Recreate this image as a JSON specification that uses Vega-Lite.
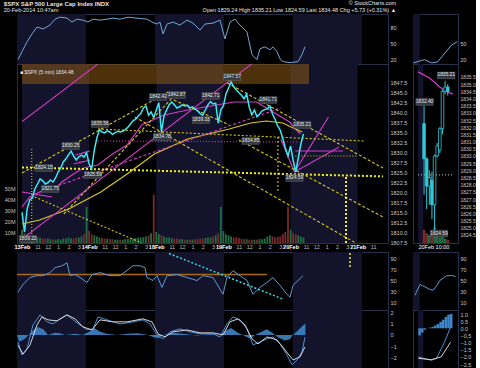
{
"$schema":"https://vega.github.io/schema/vega-lite/v6.json",
"background":"black",
"padding":{"left":3,"top":0,"right":0,"bottom":0},
"config":{
 "view":{"stroke":"#27324a","strokeWidth":1},
 "axis":{"labelColor":"#c8c8c8","labelFont":"Liberation Sans","labelFontSize":5.5,"grid":false,"domain":false,"ticks":false,"labelPadding":2,"labelOverlap":false},
 "title":{"color":"#e6e6e6","font":"Liberation Sans","fontSize":6,"fontWeight":"normal","subtitleColor":"#e6e6e6","subtitleFont":"Liberation Sans","subtitleFontSize":5.5,"subtitlePadding":1},
 "line":{"strokeCap":"butt"}
},
"title":{"text":"$SPX S&P 500 Large Cap Index INDX","subtitle":"20-Feb-2014 10:47am","anchor":"start","offset":-13,"fontWeight":"bold"},
"datasets":{
 "bands":[{"d0":0,"d1":1},{"d0":2,"d1":3},{"d0":4,"d1":5}],
 "px":[
  {"x":0,"p":1814.9,"v":12,"dir":"u"},{"x":0.038,"p":1810.0,"v":9,"dir":"d"},{"x":0.077,"p":1815.8,"v":8,"dir":"u"},{"x":0.115,"p":1818.0,"v":7,"dir":"u"},{"x":0.154,"p":1818.5,"v":6,"dir":"u"},{"x":0.192,"p":1820.8,"v":6,"dir":"u"},{"x":0.231,"p":1822.0,"v":5,"dir":"u"},{"x":0.269,"p":1823.3,"v":5,"dir":"u"},{"x":0.308,"p":1822.8,"v":4,"dir":"d"},{"x":0.346,"p":1822.0,"v":4,"dir":"d"},{"x":0.385,"p":1822.3,"v":4,"dir":"u"},{"x":0.423,"p":1823.0,"v":3.5,"dir":"u"},{"x":0.462,"p":1822.5,"v":3,"dir":"d"},{"x":0.5,"p":1823.5,"v":3,"dir":"u"},{"x":0.538,"p":1825.0,"v":3.5,"dir":"u"},{"x":0.577,"p":1826.0,"v":3,"dir":"u"},{"x":0.615,"p":1827.5,"v":4,"dir":"u"},{"x":0.654,"p":1828.3,"v":4,"dir":"u"},{"x":0.692,"p":1829.3,"v":5,"dir":"u"},{"x":0.731,"p":1830.2,"v":4,"dir":"u"},{"x":0.769,"p":1829.0,"v":4,"dir":"d"},{"x":0.808,"p":1828.0,"v":5,"dir":"d"},{"x":0.846,"p":1828.8,"v":5,"dir":"u"},{"x":0.885,"p":1829.2,"v":6,"dir":"u"},{"x":0.923,"p":1828.7,"v":8,"dir":"d"},{"x":0.962,"p":1829.8,"v":33,"dir":"u"},
  {"x":1,"p":1827.0,"v":11,"dir":"d"},{"x":1.038,"p":1825.8,"v":8,"dir":"d"},{"x":1.077,"p":1830.5,"v":7,"dir":"u"},{"x":1.115,"p":1833.5,"v":6,"dir":"u"},{"x":1.154,"p":1835.6,"v":5,"dir":"u"},{"x":1.192,"p":1835.0,"v":4.5,"dir":"d"},{"x":1.231,"p":1834.8,"v":4,"dir":"d"},{"x":1.269,"p":1835.3,"v":4,"dir":"u"},{"x":1.308,"p":1835.0,"v":3.5,"dir":"d"},{"x":1.346,"p":1834.4,"v":3.5,"dir":"d"},{"x":1.385,"p":1834.8,"v":3,"dir":"u"},{"x":1.423,"p":1835.2,"v":3,"dir":"u"},{"x":1.462,"p":1835.0,"v":3,"dir":"d"},{"x":1.5,"p":1835.2,"v":3,"dir":"u"},{"x":1.538,"p":1835.6,"v":3.5,"dir":"u"},{"x":1.577,"p":1836.2,"v":3.5,"dir":"u"},{"x":1.615,"p":1837.0,"v":4,"dir":"u"},{"x":1.654,"p":1837.8,"v":4,"dir":"u"},{"x":1.692,"p":1838.2,"v":4.5,"dir":"u"},{"x":1.731,"p":1839.0,"v":5,"dir":"u"},{"x":1.769,"p":1839.6,"v":5,"dir":"u"},{"x":1.808,"p":1841.0,"v":5.5,"dir":"u"},{"x":1.846,"p":1841.5,"v":6,"dir":"u"},{"x":1.885,"p":1839.2,"v":7,"dir":"d"},{"x":1.923,"p":1840.0,"v":9,"dir":"u"},{"x":1.962,"p":1838.6,"v":44,"dir":"d"},
  {"x":2,"p":1840.5,"v":10,"dir":"u"},{"x":2.038,"p":1842.3,"v":8,"dir":"u"},{"x":2.077,"p":1835.0,"v":7,"dir":"d"},{"x":2.115,"p":1839.0,"v":6,"dir":"u"},{"x":2.154,"p":1840.5,"v":5,"dir":"u"},{"x":2.192,"p":1841.8,"v":5,"dir":"u"},{"x":2.231,"p":1842.5,"v":4.5,"dir":"u"},{"x":2.269,"p":1841.8,"v":4,"dir":"d"},{"x":2.308,"p":1841.0,"v":4,"dir":"d"},{"x":2.346,"p":1841.3,"v":3.5,"dir":"u"},{"x":2.385,"p":1841.8,"v":3.5,"dir":"u"},{"x":2.423,"p":1841.5,"v":3,"dir":"d"},{"x":2.462,"p":1841.7,"v":3,"dir":"u"},{"x":2.5,"p":1841.0,"v":3,"dir":"d"},{"x":2.538,"p":1841.3,"v":3,"dir":"u"},{"x":2.577,"p":1840.8,"v":3.5,"dir":"d"},{"x":2.615,"p":1840.3,"v":3.5,"dir":"d"},{"x":2.654,"p":1839.6,"v":4,"dir":"d"},{"x":2.692,"p":1839.2,"v":4,"dir":"d"},{"x":2.731,"p":1840.5,"v":4.5,"dir":"u"},{"x":2.769,"p":1841.8,"v":5,"dir":"u"},{"x":2.808,"p":1842.6,"v":5,"dir":"u"},{"x":2.846,"p":1842.0,"v":6,"dir":"d"},{"x":2.885,"p":1842.2,"v":7,"dir":"u"},{"x":2.923,"p":1837.2,"v":9,"dir":"d"},{"x":2.962,"p":1840.6,"v":33,"dir":"u"},
  {"x":3,"p":1841.5,"v":11,"dir":"u"},{"x":3.038,"p":1844.5,"v":8,"dir":"u"},{"x":3.077,"p":1846.0,"v":7,"dir":"u"},{"x":3.115,"p":1847.5,"v":6,"dir":"u"},{"x":3.154,"p":1846.3,"v":5,"dir":"d"},{"x":3.192,"p":1845.5,"v":5,"dir":"d"},{"x":3.231,"p":1844.8,"v":4.5,"dir":"d"},{"x":3.269,"p":1844.2,"v":4,"dir":"d"},{"x":3.308,"p":1843.3,"v":3.5,"dir":"d"},{"x":3.346,"p":1844.5,"v":3.5,"dir":"u"},{"x":3.385,"p":1841.2,"v":3,"dir":"d"},{"x":3.423,"p":1839.3,"v":3,"dir":"d"},{"x":3.462,"p":1840.5,"v":3,"dir":"u"},{"x":3.5,"p":1838.8,"v":3,"dir":"d"},{"x":3.538,"p":1839.5,"v":3.5,"dir":"u"},{"x":3.577,"p":1840.3,"v":3.5,"dir":"u"},{"x":3.615,"p":1840.6,"v":4,"dir":"u"},{"x":3.654,"p":1840.8,"v":6,"dir":"u"},{"x":3.692,"p":1841.5,"v":7,"dir":"u"},{"x":3.731,"p":1839.5,"v":6,"dir":"d"},{"x":3.769,"p":1838.2,"v":5,"dir":"d"},{"x":3.808,"p":1836.5,"v":5.5,"dir":"d"},{"x":3.846,"p":1835.5,"v":6,"dir":"d"},{"x":3.885,"p":1833.3,"v":8,"dir":"d"},{"x":3.923,"p":1831.0,"v":10,"dir":"d"},{"x":3.962,"p":1829.0,"v":33,"dir":"d"},
  {"x":4,"p":1831.5,"v":12,"dir":"u"},{"x":4.038,"p":1828.0,"v":9,"dir":"d"},{"x":4.077,"p":1825.0,"v":8,"dir":"d"},{"x":4.115,"p":1828.5,"v":7,"dir":"u"},{"x":4.154,"p":1832.0,"v":6,"dir":"u"},{"x":4.192,"p":1834.5,"v":5,"dir":"u"}
 ],
 "ma":[
  {"s":"m1","x":0,"p":1816.25},{"s":"m1","x":0.116,"p":1818.75},{"s":"m1","x":0.261,"p":1820.0},{"s":"m1","x":0.478,"p":1820.5},{"s":"m1","x":0.594,"p":1822.5},{"s":"m1","x":0.768,"p":1824.5},{"s":"m1","x":0.913,"p":1826.0},{"s":"m1","x":1.13,"p":1826.75},{"s":"m1","x":1.348,"p":1829.5},{"s":"m1","x":1.565,"p":1831.75},{"s":"m1","x":1.783,"p":1836.75},{"s":"m1","x":2.116,"p":1839.25},{"s":"m1","x":2.464,"p":1840.5},{"s":"m1","x":2.899,"p":1841.75},{"s":"m1","x":3.159,"p":1842.5},{"s":"m1","x":3.493,"p":1842.5},{"s":"m1","x":3.739,"p":1840.0},{"s":"m1","x":3.986,"p":1837.5},{"s":"m1","x":4.145,"p":1834.5},
  {"s":"m2","x":0,"p":1812.0},{"s":"m2","x":0.261,"p":1813.0},{"s":"m2","x":0.696,"p":1815.75},{"s":"m2","x":1.174,"p":1820.0},{"s":"m2","x":1.565,"p":1824.5},{"s":"m2","x":1.971,"p":1829.5},{"s":"m2","x":2.464,"p":1833.25},{"s":"m2","x":3.087,"p":1835.75},{"s":"m2","x":3.406,"p":1837.25},{"s":"m2","x":3.638,"p":1837.75},{"s":"m2","x":3.884,"p":1837.25},{"s":"m2","x":4.072,"p":1835.75},{"s":"m2","x":4.174,"p":1835.0}
 ],
 "ann":[
  {"id":"rA","k":"red","x":0,"p":1837.6},{"id":"rA","k":"red","x":1.13,"p":1852},
  {"id":"rB","k":"red","x":0,"p":1808.25},{"id":"rB","k":"red","x":3.42,"p":1852},
  {"id":"rC1","k":"red","x":4.058,"p":1825.0},{"id":"rC1","k":"red","x":4.565,"p":1838.75},
  {"id":"rC2","k":"red","x":4.058,"p":1825.0},{"id":"rC2","k":"red","x":4.725,"p":1831.25},
  {"id":"rC3","k":"red","x":3.855,"p":1833.25},{"id":"rC3","k":"red","x":4.058,"p":1825.0},
  {"id":"rD1","k":"red","x":0.797,"p":1829.25},{"id":"rD1","k":"red","x":1.014,"p":1830.25},
  {"id":"rD2","k":"red","x":0.768,"p":1827.0},{"id":"rD2","k":"red","x":1.014,"p":1828.0},
  {"id":"mE","k":"mag","x":0,"p":1824.75},{"id":"mE","k":"mag","x":2.174,"p":1845.0},
  {"id":"mF","k":"mag","x":0.623,"p":1814.5},{"id":"mF","k":"mag","x":2.29,"p":1844.5},
  {"id":"oG","k":"ora","x":0.261,"p":1820.0},{"id":"oG","k":"ora","x":3.855,"p":1841.0},
  {"id":"cH","k":"cya","x":1.13,"p":1835.75},{"id":"cH","k":"cya","x":5.087,"p":1832.75},
  {"id":"tI","k":"tea","x":1.13,"p":1832.75},{"id":"tI","k":"tea","x":4.101,"p":1832.5},
  {"id":"cJ","k":"cya","x":3.812,"p":1833.75},{"id":"cJ","k":"cya","x":3.8121,"p":1820.0},
  {"id":"cK","k":"cya","x":0.188,"p":1818.75},{"id":"cK","k":"cya","x":1.783,"p":1807.25},
  {"id":"g1","k":"grn","x":3.058,"p":1847.25},{"id":"g1","k":"grn","x":5.377,"p":1826.0},
  {"id":"g0","k":"grn","x":2.261,"p":1843.0},{"id":"g0","k":"grn","x":3.087,"p":1836.75},
  {"id":"g2","k":"grn","x":1.681,"p":1838.75},{"id":"g2","k":"grn","x":4.971,"p":1807.25},
  {"id":"g3","k":"grn","x":3.232,"p":1833.0},{"id":"g3","k":"grn","x":5.377,"p":1813.75},
  {"id":"bN","k":"blu","x":0,"p":1820.0},{"id":"bN","k":"blu","x":0.449,"p":1818.75},
  {"id":"bV","k":"bld","x":0.145,"p":1830.75},{"id":"bV","k":"bld","x":0.1451,"p":1807.25},
  {"id":"oO","k":"orh","x":4.072,"p":1830.25},{"id":"oO","k":"orh","x":4.783,"p":1830.25},
  {"id":"gP","k":"gry","x":4.072,"p":1829.0},{"id":"gP","k":"gry","x":5.0,"p":1829.0}
 ],
 "yel":[
  {"id":"yL","x":0,"p":1826.15},{"id":"yL","x":5.377,"p":1823.9},
  {"id":"yM","x":4.826,"p":1823.75},{"id":"yM","x":4.8261,"p":1807.25}
 ],
 "box":[{"x0":0,"x1":4.275,"p0":1847.0,"p1":1852}],
 "lbl":[
  {"x":0.087,"p":1808.25,"t":"1809.22"},{"x":0.42,"p":1820.75,"t":"1821.75"},{"x":0.326,"p":1826.0,"t":"1824.15"},{"x":0.725,"p":1831.5,"t":"1830.25"},{"x":1.058,"p":1824.25,"t":"1825.59"},{"x":1.159,"p":1837.0,"t":"1835.56"},{"x":2.029,"p":1843.75,"t":"1842.42"},{"x":2.304,"p":1844.25,"t":"1842.87"},{"x":2.087,"p":1833.75,"t":"1834.78"},{"x":2.812,"p":1844.0,"t":"1842.71"},{"x":2.667,"p":1838.0,"t":"1839.33"},{"x":3.13,"p":1848.75,"t":"1847.57"},{"x":3.667,"p":1843.0,"t":"1841.71"},{"x":3.406,"p":1832.75,"t":"1834.85"},{"x":4.174,"p":1836.75,"t":"1835.21"},{"x":4.058,"p":1823.5,"t":"1824.59"}
 ],
 "rsi1":[
  {"x":0.014,"v":20},{"x":0.072,"v":34.5},{"x":0.145,"v":52.7},{"x":0.217,"v":67.3},{"x":0.29,"v":80},{"x":0.377,"v":76.4},{"x":0.478,"v":83.6},{"x":0.551,"v":94.5},{"x":0.623,"v":98.2},{"x":0.725,"v":96.4},{"x":0.797,"v":89.1},{"x":0.87,"v":94.5},{"x":0.957,"v":92.7},{"x":1.029,"v":89.1},{"x":1.101,"v":94.5},{"x":1.203,"v":92.7},{"x":1.304,"v":94.5},{"x":1.391,"v":96.4},{"x":1.493,"v":94.5},{"x":1.609,"v":98.2},{"x":1.739,"v":96.4},{"x":1.884,"v":94.5},{"x":1.957,"v":89.1},{"x":2.029,"v":85.5},{"x":2.072,"v":89.1},{"x":2.116,"v":67.3},{"x":2.174,"v":85.5},{"x":2.261,"v":89.1},{"x":2.362,"v":83.6},{"x":2.464,"v":92.7},{"x":2.551,"v":87.3},{"x":2.652,"v":74.5},{"x":2.725,"v":85.5},{"x":2.841,"v":87.3},{"x":2.942,"v":92.7},{"x":3.014,"v":58.2},{"x":3.087,"v":89.1},{"x":3.159,"v":94.5},{"x":3.232,"v":83.6},{"x":3.333,"v":70.9},{"x":3.406,"v":29.1},{"x":3.478,"v":20},{"x":3.522,"v":40},{"x":3.594,"v":43.6},{"x":3.667,"v":38.2},{"x":3.71,"v":43.6},{"x":3.768,"v":34.5},{"x":3.812,"v":21.8},{"x":3.855,"v":16.4},{"x":3.957,"v":14.5},{"x":4.072,"v":16.4},{"x":4.13,"v":29.1},{"x":4.174,"v":43.6}
 ],
 "rsi2":[
  {"x":0.014,"v":28.2},{"x":0.087,"v":42.7},{"x":0.188,"v":55.5},{"x":0.29,"v":59},{"x":0.377,"v":59},{"x":0.478,"v":64.5},{"x":0.551,"v":73.6},{"x":0.652,"v":77.3},{"x":0.725,"v":82.7},{"x":0.768,"v":59},{"x":0.841,"v":61},{"x":0.913,"v":55.5},{"x":1.014,"v":46.4},{"x":1.087,"v":61},{"x":1.203,"v":64.5},{"x":1.348,"v":59},{"x":1.493,"v":59},{"x":1.609,"v":70},{"x":1.681,"v":77.3},{"x":1.783,"v":77.3},{"x":1.855,"v":73.6},{"x":1.884,"v":55.5},{"x":1.971,"v":50},{"x":2.029,"v":59},{"x":2.101,"v":37.3},{"x":2.174,"v":59},{"x":2.319,"v":61},{"x":2.464,"v":55.5},{"x":2.609,"v":50},{"x":2.696,"v":59},{"x":2.841,"v":55.5},{"x":2.986,"v":24.5},{"x":3.043,"v":55.5},{"x":3.13,"v":68.2},{"x":3.232,"v":59},{"x":3.333,"v":50},{"x":3.42,"v":24.5},{"x":3.522,"v":37.3},{"x":3.623,"v":46.4},{"x":3.71,"v":55.5},{"x":3.812,"v":40.9},{"x":3.913,"v":24.5},{"x":3.957,"v":19},{"x":4.0,"v":40.9},{"x":4.072,"v":50},{"x":4.145,"v":59}
 ],
 "ann2":[
  {"id":"o","k":"orh","x":0,"v":61},{"id":"o","k":"orh","x":3.623,"v":61},
  {"id":"c","k":"cya","x":2.203,"v":100},{"id":"c","k":"cya","x":3.855,"v":15.5},
  {"id":"y","k":"yel","x":4.826,"v":101},{"id":"y","k":"yel","x":4.8261,"v":71.8}
 ],
 "macd":[
  {"k":"m","x":0.014,"v":-0.62},{"k":"m","x":0.072,"v":-1.77},{"k":"m","x":0.145,"v":-1.24},{"k":"m","x":0.232,"v":0.88},{"k":"m","x":0.333,"v":1.77},{"k":"m","x":0.435,"v":1.15},{"k":"m","x":0.522,"v":0.97},{"k":"m","x":0.623,"v":1.42},{"k":"m","x":0.725,"v":1.77},{"k":"m","x":0.812,"v":1.33},{"k":"m","x":0.913,"v":0.88},{"k":"m","x":1.014,"v":0.44},{"k":"m","x":1.101,"v":0.53},{"k":"m","x":1.174,"v":1.59},{"k":"m","x":1.304,"v":1.33},{"k":"m","x":1.493,"v":0.97},{"k":"m","x":1.681,"v":1.15},{"k":"m","x":1.826,"v":1.33},{"k":"m","x":1.928,"v":0.97},{"k":"m","x":2.029,"v":0},{"k":"m","x":2.116,"v":-0.35},{"k":"m","x":2.217,"v":0.27},{"k":"m","x":2.362,"v":0.53},{"k":"m","x":2.507,"v":0.27},{"k":"m","x":2.652,"v":0.09},{"k":"m","x":2.841,"v":0.09},{"k":"m","x":2.942,"v":-0.18},{"k":"m","x":3.043,"v":0.97},{"k":"m","x":3.13,"v":1.59},{"k":"m","x":3.232,"v":1.33},{"k":"m","x":3.333,"v":0.53},{"k":"m","x":3.42,"v":-0.88},{"k":"m","x":3.522,"v":-0.62},{"k":"m","x":3.623,"v":-0.35},{"k":"m","x":3.71,"v":-0.18},{"k":"m","x":3.812,"v":-0.8},{"k":"m","x":3.913,"v":-1.77},{"k":"m","x":3.986,"v":-2.65},{"k":"m","x":4.058,"v":-2.21},{"k":"m","x":4.13,"v":-1.5},{"k":"m","x":4.174,"v":-0.2},
  {"k":"s","x":0.014,"v":-0.9},{"k":"s","x":0.087,"v":-1.7},{"k":"s","x":0.188,"v":-0.9},{"k":"s","x":0.29,"v":0.88},{"k":"s","x":0.362,"v":1.59},{"k":"s","x":0.449,"v":1.33},{"k":"s","x":0.58,"v":1.24},{"k":"s","x":0.725,"v":1.77},{"k":"s","x":0.841,"v":1.42},{"k":"s","x":0.957,"v":0.71},{"k":"s","x":1.087,"v":0.44},{"k":"s","x":1.203,"v":1.33},{"k":"s","x":1.391,"v":1.15},{"k":"s","x":1.594,"v":1.15},{"k":"s","x":1.826,"v":1.42},{"k":"s","x":1.957,"v":1.15},{"k":"s","x":2.043,"v":0.09},{"k":"s","x":2.145,"v":-0.18},{"k":"s","x":2.261,"v":0.27},{"k":"s","x":2.464,"v":0.44},{"k":"s","x":2.652,"v":0.18},{"k":"s","x":2.841,"v":0.18},{"k":"s","x":2.986,"v":0},{"k":"s","x":3.087,"v":1.15},{"k":"s","x":3.203,"v":1.42},{"k":"s","x":3.304,"v":0.88},{"k":"s","x":3.406,"v":-0.35},{"k":"s","x":3.493,"v":-0.8},{"k":"s","x":3.623,"v":-0.18},{"k":"s","x":3.768,"v":-0.44},{"k":"s","x":3.884,"v":-1.33},{"k":"s","x":4.0,"v":-2.21},{"k":"s","x":4.101,"v":-1.95},{"k":"s","x":4.174,"v":-1.06}
 ],
 "hist":[
  {"x":0,"h":0},{"x":0.03,"h":-0.6},{"x":0.1,"h":-0.4},{"x":0.17,"h":0},{"x":0.25,"h":0.5},{"x":0.3,"h":0.7},{"x":0.38,"h":0.5},{"x":0.45,"h":0},{"x":0.55,"h":0.2},{"x":0.62,"h":0.15},{"x":0.7,"h":0},{"x":0.85,"h":0.1},{"x":0.95,"h":0},{"x":1.05,"h":0.3},{"x":1.12,"h":0.6},{"x":1.2,"h":0.3},{"x":1.3,"h":0.1},{"x":1.45,"h":0},{"x":1.6,"h":0.1},{"x":1.75,"h":0.15},{"x":1.9,"h":0},{"x":1.98,"h":-0.2},{"x":2.05,"h":-0.3},{"x":2.12,"h":0},{"x":2.25,"h":0.2},{"x":2.4,"h":0.1},{"x":2.6,"h":-0.05},{"x":2.8,"h":0.05},{"x":2.95,"h":0},{"x":3.03,"h":0.4},{"x":3.1,"h":0.6},{"x":3.2,"h":0.2},{"x":3.3,"h":-0.1},{"x":3.38,"h":-0.35},{"x":3.45,"h":0},{"x":3.55,"h":0.3},{"x":3.62,"h":0.5},{"x":3.7,"h":0.2},{"x":3.78,"h":-0.2},{"x":3.88,"h":-0.5},{"x":3.95,"h":-0.4},{"x":4.0,"h":0},{"x":4.07,"h":0.4},{"x":4.14,"h":0.8},{"x":4.18,"h":1.0}
 ],
 "bandsR":[{"d0":-2.3,"d1":-0.3}],
 "cndl":[
  {"i":0,"o":1832.25,"h":1833.5,"l":1827.3,"c":1829.8},{"i":1,"o":1829.8,"h":1829.9,"l":1826.3,"c":1827.9},{"i":2,"o":1827.9,"h":1829.0,"l":1826.6,"c":1828.5},{"i":3,"o":1828.3,"h":1828.9,"l":1825.6,"c":1826.6},{"i":4,"o":1826.6,"h":1830.1,"l":1824.59,"c":1830.0},{"i":5,"o":1830.0,"h":1830.9,"l":1829.9,"c":1830.7},{"i":6,"o":1830.4,"h":1832.0,"l":1830.2,"c":1831.9},{"i":7,"o":1831.9,"h":1834.6,"l":1831.5,"c":1834.5},{"i":8,"o":1834.5,"h":1835.21,"l":1834.3,"c":1834.8},{"i":9,"o":1834.8,"h":1835.0,"l":1834.2,"c":1834.48}
 ],
 "volR":[{"i":0,"v":12,"dir":"d"},{"i":1,"v":9,"dir":"d"},{"i":2,"v":7,"dir":"u"},{"i":3,"v":8,"dir":"d"},{"i":4,"v":14,"dir":"u"},{"i":5,"v":6,"dir":"u"},{"i":6,"v":5,"dir":"u"},{"i":7,"v":7,"dir":"u"},{"i":8,"v":4,"dir":"u"},{"i":9,"v":3,"dir":"d"}],
 "maR":[{"i":-2.3,"p":1835.85},{"i":2.11,"p":1835.43},{"i":5.94,"p":1834.8},{"i":8.88,"p":1834.46},{"i":10.94,"p":1834.3}],
 "hlR":[{"i":-2.3,"p":1828.68},{"i":11,"p":1828.68}],
 "lblR":[{"i":0.2,"p":1833.76,"t":"1832.40"},{"i":8.4,"p":1835.6,"t":"1835.21"},{"i":5.64,"p":1824.6,"t":"1824.59"}],
 "rsi1R":[{"i":-2.2,"v":14},{"i":1.1,"v":20},{"i":3.2,"v":14},{"i":5.0,"v":16},{"i":9.1,"v":47},{"i":10.8,"v":53.1}],
 "rsi2R":[{"i":-1.71,"v":22.7},{"i":-0.24,"v":42.7},{"i":2.7,"v":33.6},{"i":3.58,"v":31.8},{"i":4.76,"v":40.9},{"i":5.64,"v":50},{"i":7.7,"v":59},{"i":9.46,"v":59},{"i":10.3,"v":57}],
 "macdR":[{"k":"m","i":-2.2,"v":-2.0},{"k":"m","i":2.7,"v":-2.24},{"k":"m","i":4.76,"v":-2.1},{"k":"m","i":7.7,"v":-0.98},{"k":"m","i":10.05,"v":0.07},{"k":"s","i":-2.2,"v":-2.1},{"k":"s","i":2.7,"v":-2.2},{"k":"s","i":6.52,"v":-2.0},{"k":"s","i":10.05,"v":-0.98}],
 "histR":[{"i":-1.7,"h":-0.5},{"i":-0.7,"h":-0.3},{"i":0.3,"h":-0.1},{"i":1.3,"h":0},{"i":2.3,"h":0.05},{"i":3.3,"h":0.1},{"i":4.3,"h":0.2},{"i":5.3,"h":0.3},{"i":6.3,"h":0.45},{"i":7.3,"h":0.6},{"i":8.3,"h":0.8},{"i":9.3,"h":0.95},{"i":10.3,"h":1.0}]
},
"columns":2,
"align":"each",
"bounds":"flush",
"spacing":{"row":0,"column":25},
"resolve":{"scale":{"color":"independent","strokeDash":"independent"}},
"concat":[
   {"width":371,"height":50,
    "title":{"text":"© StockCharts.com","subtitle":"Open 1829.24  High 1835.21  Low 1824.59  Last 1834.48  Chg +5.73 (+0.31%) ▲","anchor":"end","offset":1,"fontSize":5.5,"subtitleFontSize":5.5},
    "layer":[
     {"data":{"name":"bands"},"mark":{"type":"rect","color":"#13132b"},"encoding":{"x":{"field":"d0","type":"quantitative","scale":{"domain":[0,5.377],"nice":false},"axis":null},"x2":{"field":"d1"}}},
     {"mark":{"type":"rule","color":"#c0202a","strokeDash":[3,2]},"encoding":{"y":{"datum":80}}},
     {"mark":{"type":"rule","color":"#1f3a80","strokeDash":[4,2,1,2]},"encoding":{"y":{"datum":50}}},
     {"mark":{"type":"rule","color":"#18b018","strokeWidth":1.5},"encoding":{"y":{"datum":20}}},
     {"data":{"name":"rsi1"},"mark":{"type":"line","color":"#6fa8dc","strokeWidth":1},"encoding":{"x":{"field":"x","type":"quantitative","title":null},"y":{"field":"v","type":"quantitative","scale":{"domain":[12,104],"nice":false,"zero":false},"axis":{"orient":"right","values":[20,50,80],"tickCount":100,"format":"d","title":null}}}}
    ]},
   {"width":45,"height":50,
    "layer":[
     {"data":{"name":"bandsR"},"mark":{"type":"rect","color":"#13132b"},"encoding":{"x":{"field":"d0","type":"quantitative","scale":{"domain":[-2.3,11],"nice":false,"zero":false},"axis":null},"x2":{"field":"d1"}}},
     {"mark":{"type":"rule","color":"#1f3a80"},"encoding":{"y":{"datum":80}}},
     {"mark":{"type":"rule","color":"#1f3a80","strokeDash":[4,2,1,2]},"encoding":{"y":{"datum":50}}},
     {"mark":{"type":"rule","color":"#1f3a80"},"encoding":{"y":{"datum":20}}},
     {"data":{"name":"rsi1R"},"mark":{"type":"line","color":"#6fa8dc","strokeWidth":1},"encoding":{"x":{"field":"i","type":"quantitative","title":null},"y":{"field":"v","type":"quantitative","scale":{"domain":[12,104],"nice":false,"zero":false},"axis":{"orient":"right","values":[20,50],"tickCount":100,"format":"d","title":null}}}}
    ]},
   {"width":371,"height":179,
    "title":{"text":"■ $SPX (5 min) 1834.48","anchor":"start","frame":"group","offset":-13,"fontSize":5,"dx":3},
    "layer":[
     {"data":{"name":"bands"},"mark":{"type":"rect","color":"#13132b"},"encoding":{"x":{"field":"d0","type":"quantitative","scale":{"domain":[0,5.377],"nice":false},"axis":{"values":[0,0.2308,0.3846,0.5385,0.6923,0.8462,1,1.2308,1.3846,1.5385,1.6923,1.8462,2,2.2308,2.3846,2.5385,2.6923,2.8462,3,3.2308,3.3846,3.5385,3.6923,3.8462,4,4.2308,4.3846,4.5385,4.6923,4.8462,5,5.2308],"tickCount":100,"labelExpr":"abs(datum.value - round(datum.value)) < 0.01 ? ['13Feb','14Feb','18Feb','19Feb','20Feb','21Feb'][round(datum.value)] : ['11','12','1','2','3'][round((datum.value - floor(datum.value)) * 6.5 - 1.5)]","labelColor":{"condition":{"test":"abs(datum.value - round(datum.value)) < 0.01","value":"#ffffff"},"value":"#bdbdbd"},"labelFontWeight":{"condition":{"test":"abs(datum.value - round(datum.value)) < 0.01","value":"bold"},"value":"normal"},"labelFlush":false,"labelPadding":1,"title":null}},"x2":{"field":"d1"}}},
     {"data":{"name":"px"},"mark":{"type":"bar","size":1.8},"encoding":{"x":{"field":"x","type":"quantitative","title":null},"y":{"field":"v","type":"quantitative","scale":{"domain":[0,163],"nice":false},"axis":{"orient":"left","values":[10,20,30,40,50],"tickCount":100,"labelExpr":"datum.value + 'M'","title":null}},"color":{"field":"dir","type":"nominal","scale":{"domain":["u","d"],"range":["#1f6e43","#7a2a2a"]},"legend":null}}},
     {"layer":[
       {"data":{"name":"box"},"mark":{"type":"rect","color":"#8a5a14","opacity":0.55},"encoding":{"x":{"field":"x0","type":"quantitative","title":null},"x2":{"field":"x1"},"y":{"field":"p0","type":"quantitative","title":null},"y2":{"field":"p1"}}},
       {"data":{"name":"ma"},"mark":{"type":"line","strokeWidth":1.2},"encoding":{"x":{"field":"x","type":"quantitative","title":null},"y":{"field":"p","type":"quantitative","title":null},"color":{"field":"s","type":"nominal","scale":{"domain":["m1","m2"],"range":["#d23cc8","#d8c818"]},"legend":null}}},
       {"data":{"name":"ann"},"mark":{"type":"line","strokeWidth":1.1},"encoding":{"x":{"field":"x","type":"quantitative","title":null},"y":{"field":"p","type":"quantitative","title":null},"detail":{"field":"id"},"color":{"field":"k","type":"nominal","scale":{"domain":["red","mag","ora","cya","tea","grn","blu","bld","orh","gry"],"range":["#d41a1a","#d040d0","#e07a10","#30e0e8","#1aa0a8","#19c419","#1a3cff","#2a40ff","#a86818","#a0a0a0"]},"legend":null},"strokeDash":{"field":"k","type":"nominal","scale":{"domain":["red","mag","ora","cya","tea","grn","blu","bld","orh","gry"],"range":[[1,0],[3,2],[3,2],[2,2],[1,2],[3,2],[1,0],[1,2],[1,0],[1,2]]},"legend":null}}},
       {"data":{"name":"yel"},"mark":{"type":"line","strokeWidth":2,"color":"#f0f020","strokeDash":[2,2]},"encoding":{"x":{"field":"x","type":"quantitative","title":null},"y":{"field":"p","type":"quantitative","title":null},"detail":{"field":"id"}}},
       {"data":{"name":"px"},"mark":{"type":"line","color":"#3ee6f0","strokeWidth":1.5},"encoding":{"x":{"field":"x","type":"quantitative","title":null},"y":{"field":"p","type":"quantitative","scale":{"domain":[1807.25,1852],"nice":false,"zero":false},"axis":{"orient":"right","values":[1807.5,1810,1812.5,1815,1817.5,1820,1822.5,1825,1827.5,1830,1832.5,1835,1837.5,1840,1842.5,1845,1847.5],"tickCount":100,"format":".1f","title":null}}}},
       {"data":{"name":"lbl"},"mark":{"type":"point","shape":"M-1,-0.38L1,-0.38L1,0.38L-1,0.38Z","filled":true,"size":300,"color":"#34373e","opacity":1,"stroke":"#70747c","strokeWidth":0.5},"encoding":{"x":{"field":"x","type":"quantitative","title":null},"y":{"field":"p","type":"quantitative","title":null}}},
       {"data":{"name":"lbl"},"mark":{"type":"text","fontSize":4.8,"color":"#e8e8e8","font":"Liberation Sans"},"encoding":{"x":{"field":"x","type":"quantitative","title":null},"y":{"field":"p","type":"quantitative","title":null},"text":{"field":"t"}}}
     ]}
    ],
    "resolve":{"scale":{"y":"independent","color":"independent","strokeDash":"independent"}}},
   {"width":45,"height":179,
    "layer":[
     {"data":{"name":"bandsR"},"mark":{"type":"rect","color":"#13132b"},"encoding":{"x":{"field":"d0","type":"quantitative","scale":{"domain":[-2.3,11],"nice":false,"zero":false},"axis":{"values":[-2.3],"labelExpr":"'20Feb 10:00'","labelAlign":"left","labelFlush":false,"labelPadding":1,"labelColor":"#ffffff","title":null}},"x2":{"field":"d1"}}},
     {"data":{"name":"volR"},"mark":{"type":"bar","size":2.6},"encoding":{"x":{"field":"i","type":"quantitative","title":null},"y":{"field":"v","type":"quantitative","scale":{"domain":[0,163],"nice":false},"axis":null},"color":{"field":"dir","type":"nominal","scale":{"domain":["u","d"],"range":["#1f6e43","#7a2a2a"]},"legend":null}}},
     {"layer":[
       {"data":{"name":"hlR"},"mark":{"type":"line","color":"#c8c8c8","strokeDash":[1,2],"strokeWidth":1},"encoding":{"x":{"field":"i","type":"quantitative","title":null},"y":{"field":"p","type":"quantitative","title":null}}},
       {"data":{"name":"maR"},"mark":{"type":"line","color":"#d23cc8","strokeWidth":1.2},"encoding":{"x":{"field":"i","type":"quantitative","title":null},"y":{"field":"p","type":"quantitative","title":null}}},
       {"data":{"name":"cndl"},"mark":{"type":"rule","color":"#30c8d8","strokeWidth":1},"encoding":{"x":{"field":"i","type":"quantitative","title":null},"y":{"field":"l","type":"quantitative","title":null},"y2":{"field":"h"}}},
       {"data":{"name":"cndl"},"mark":{"type":"bar","size":2.6,"stroke":"#30c8d8","strokeWidth":0.8},"encoding":{"x":{"field":"i","type":"quantitative","title":null},"y":{"field":"o","type":"quantitative","scale":{"domain":[1823.94,1836.4],"nice":false,"zero":false},"axis":{"orient":"right","values":[1824.5,1825,1825.5,1826,1826.5,1827,1827.5,1828,1828.5,1829,1829.5,1830,1830.5,1831,1831.5,1832,1832.5,1833,1833.5,1834,1834.5,1835,1835.5],"tickCount":100,"format":".1f","labelFontSize":5,"title":null}},"y2":{"field":"c"},"fill":{"condition":{"test":"datum.c > datum.o","value":"black"},"value":"#30c8d8"}}},
       {"data":{"name":"lblR"},"mark":{"type":"point","shape":"M-1,-0.38L1,-0.38L1,0.38L-1,0.38Z","filled":true,"size":300,"color":"#34373e","opacity":1,"stroke":"#70747c","strokeWidth":0.5},"encoding":{"x":{"field":"i","type":"quantitative","title":null},"y":{"field":"p","type":"quantitative","title":null}}},
       {"data":{"name":"lblR"},"mark":{"type":"text","fontSize":4.8,"color":"#e8e8e8","font":"Liberation Sans"},"encoding":{"x":{"field":"i","type":"quantitative","title":null},"y":{"field":"p","type":"quantitative","title":null},"text":{"field":"t"}}}
     ]}
    ],
    "resolve":{"scale":{"y":"independent","color":"independent"}}},
   {"width":371,"height":9,"view":{"stroke":null},"data":{"values":[{"a":1}]},"mark":{"type":"point","opacity":0},"encoding":{}},
   {"width":45,"height":9,"view":{"stroke":null},"data":{"values":[{"a":1}]},"mark":{"type":"point","opacity":0},"encoding":{}},
   {"width":371,"height":58,
    "layer":[
     {"data":{"name":"bands"},"mark":{"type":"rect","color":"#13132b"},"encoding":{"x":{"field":"d0","type":"quantitative","scale":{"domain":[0,5.377],"nice":false},"axis":null},"x2":{"field":"d1"}}},
     {"mark":{"type":"rule","color":"#23305a"},"encoding":{"y":{"datum":70}}},
     {"mark":{"type":"rule","color":"#23305a","strokeDash":[4,2,1,2]},"encoding":{"y":{"datum":50}}},
     {"mark":{"type":"rule","color":"#23305a"},"encoding":{"y":{"datum":30}}},
     {"data":{"name":"ann2"},"mark":{"type":"line","strokeWidth":1.5},"encoding":{"x":{"field":"x","type":"quantitative","title":null},"y":{"field":"v","type":"quantitative","title":null},"detail":{"field":"id"},"color":{"field":"k","type":"nominal","scale":{"domain":["orh","cya","yel"],"range":["#a86818","#30e0e8","#f0f020"]},"legend":null},"strokeDash":{"field":"k","type":"nominal","scale":{"domain":["orh","cya","yel"],"range":[[1,0],[2,2],[2,2]]},"legend":null}}},
     {"data":{"name":"rsi2"},"mark":{"type":"line","color":"#5b9bd5","strokeWidth":1},"encoding":{"x":{"field":"x","type":"quantitative","title":null},"y":{"field":"v","type":"quantitative","scale":{"domain":[-4.5,102.7],"nice":false,"zero":false},"axis":{"orient":"right","values":[10,30,50,70,90],"tickCount":100,"format":"d","title":null}}}}
    ]},
   {"width":45,"height":58,
    "layer":[
     {"data":{"name":"bandsR"},"mark":{"type":"rect","color":"#13132b"},"encoding":{"x":{"field":"d0","type":"quantitative","scale":{"domain":[-2.3,11],"nice":false,"zero":false},"axis":null},"x2":{"field":"d1"}}},
     {"mark":{"type":"rule","color":"#23305a"},"encoding":{"y":{"datum":70}}},
     {"mark":{"type":"rule","color":"#23305a","strokeDash":[4,2,1,2]},"encoding":{"y":{"datum":50}}},
     {"mark":{"type":"rule","color":"#23305a"},"encoding":{"y":{"datum":30}}},
     {"data":{"name":"rsi2R"},"mark":{"type":"line","color":"#5b9bd5","strokeWidth":1},"encoding":{"x":{"field":"i","type":"quantitative","title":null},"y":{"field":"v","type":"quantitative","scale":{"domain":[-4.5,102.7],"nice":false,"zero":false},"axis":{"orient":"right","values":[10,30,50,70,90],"tickCount":100,"format":"d","title":null}}}}
    ]},
   {"width":371,"height":60,
    "layer":[
     {"data":{"name":"bands"},"mark":{"type":"rect","color":"#13132b"},"encoding":{"x":{"field":"d0","type":"quantitative","scale":{"domain":[0,5.377],"nice":false},"axis":null},"x2":{"field":"d1"}}},
     {"data":{"name":"hist"},"mark":{"type":"area","color":"#3d85c6","opacity":0.9},"encoding":{"x":{"field":"x","type":"quantitative","title":null},"y":{"field":"h","type":"quantitative","title":null}}},
     {"data":{"name":"macd"},"mark":{"type":"line","strokeWidth":1},"encoding":{"x":{"field":"x","type":"quantitative","title":null},"y":{"field":"v","type":"quantitative","scale":{"domain":[-3.1,2.2],"nice":false,"zero":false},"axis":{"orient":"right","values":[-2,-1,0,1,2],"tickCount":100,"format":"d","title":null}},"color":{"field":"k","type":"nominal","scale":{"domain":["m","s"],"range":["#4a90d9","#d8d8d8"]},"legend":null}}}
    ]},
   {"width":45,"height":60,
    "layer":[
     {"data":{"name":"bandsR"},"mark":{"type":"rect","color":"#13132b"},"encoding":{"x":{"field":"d0","type":"quantitative","scale":{"domain":[-2.3,11],"nice":false,"zero":false},"axis":null},"x2":{"field":"d1"}}},
     {"data":{"name":"histR"},"mark":{"type":"bar","size":2.6,"color":"#3d85c6"},"encoding":{"x":{"field":"i","type":"quantitative","title":null},"y":{"field":"h","type":"quantitative","title":null}}},
     {"data":{"name":"macdR"},"mark":{"type":"line","strokeWidth":1},"encoding":{"x":{"field":"i","type":"quantitative","title":null},"y":{"field":"v","type":"quantitative","scale":{"domain":[-2.92,1.28],"nice":false,"zero":false},"axis":{"orient":"right","values":[-2.5,-2,-1.5,-1,-0.5,0,0.5,1],"tickCount":100,"format":".1f","title":null}},"color":{"field":"k","type":"nominal","scale":{"domain":["m","s"],"range":["#4a90d9","#d8d8d8"]},"legend":null}}}
    ]}
]
}
